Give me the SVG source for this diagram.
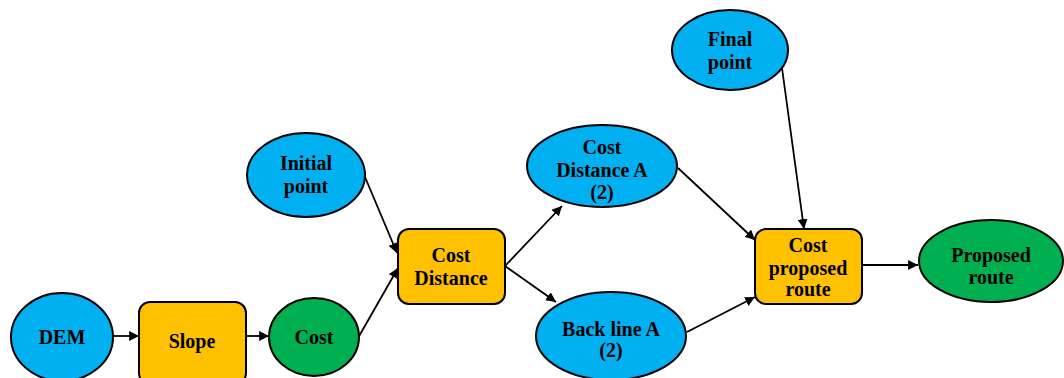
<svg xmlns="http://www.w3.org/2000/svg" width="1064" height="378" viewBox="0 0 1064 378">
<defs>
<style>
.blue{fill:#00b0f0;stroke:#000;stroke-width:2}
.green{fill:#00b050;stroke:#000;stroke-width:2}
.box{fill:#ffc000;stroke:#000;stroke-width:2}
text{font-family:"Liberation Serif","Times New Roman",serif;font-weight:bold;font-size:20px;fill:#000;text-anchor:middle}
.edge{stroke:#000;stroke-width:1.8;fill:none;marker-end:url(#arr)}
</style>
<marker id="arr" viewBox="0 0 10 10" refX="10" refY="5" markerWidth="5.5" markerHeight="5.5" orient="auto" markerUnits="strokeWidth">
<path d="M0,0 L10,5 L0,10 z" fill="#000"/>
</marker>
</defs>
<rect width="1064" height="378" fill="#fff"/>
<g id="connectors">
<line class="edge" x1="113" y1="336" x2="139" y2="336"/>
<line class="edge" x1="246" y1="336" x2="269" y2="336"/>
<line class="edge" x1="358" y1="338" x2="398" y2="268"/>
<line class="edge" x1="365" y1="177" x2="397" y2="253"/>
<line class="edge" x1="505" y1="266" x2="562" y2="206"/>
<line class="edge" x1="505" y1="266" x2="556" y2="302"/>
<line class="edge" x1="678" y1="168" x2="755" y2="240"/>
<line class="edge" x1="687" y1="332" x2="755" y2="297"/>
<line class="edge" x1="782" y1="68" x2="804" y2="229"/>
<line class="edge" x1="862" y1="265" x2="918" y2="265"/>
</g>
<g id="dem"><ellipse class="blue" cx="62" cy="337" rx="51" ry="44"/><text x="62" y="344">DEM</text></g>
<g id="slope"><rect class="box" x="139" y="302" width="107" height="82" rx="11"/><text x="192" y="348">Slope</text></g>
<g id="cost"><ellipse class="green" cx="314" cy="337" rx="45" ry="39"/><text x="314" y="344">Cost</text></g>
<g id="initial-point"><ellipse class="blue" cx="306" cy="175" rx="59" ry="42"/><text x="306" y="170">Initial</text><text x="306" y="193">point</text></g>
<g id="cost-distance"><rect class="box" x="398" y="229" width="107" height="75" rx="11"/><text x="451" y="262">Cost</text><text x="451" y="285">Distance</text></g>
<g id="cost-distance-a"><ellipse class="blue" cx="602" cy="166" rx="75" ry="41"/><text x="602" y="154">Cost</text><text x="602" y="177">Distance A</text><text x="602" y="199">(2)</text></g>
<g id="back-line-a"><ellipse class="blue" cx="611" cy="336" rx="75" ry="44"/><text x="611" y="336">Back line A</text><text x="611" y="357">(2)</text></g>
<g id="final-point"><ellipse class="blue" cx="730" cy="50" rx="58" ry="40"/><text x="730" y="46">Final</text><text x="730" y="69">point</text></g>
<g id="cost-proposed-route"><rect class="box" x="755" y="229" width="107" height="75" rx="11"/><text x="808" y="252">Cost</text><text x="808" y="275">proposed</text><text x="808" y="296">route</text></g>
<g id="proposed-route"><ellipse class="green" cx="991" cy="261" rx="72" ry="41"/><text x="991" y="262">Proposed</text><text x="991" y="284">route</text></g>
</svg>
